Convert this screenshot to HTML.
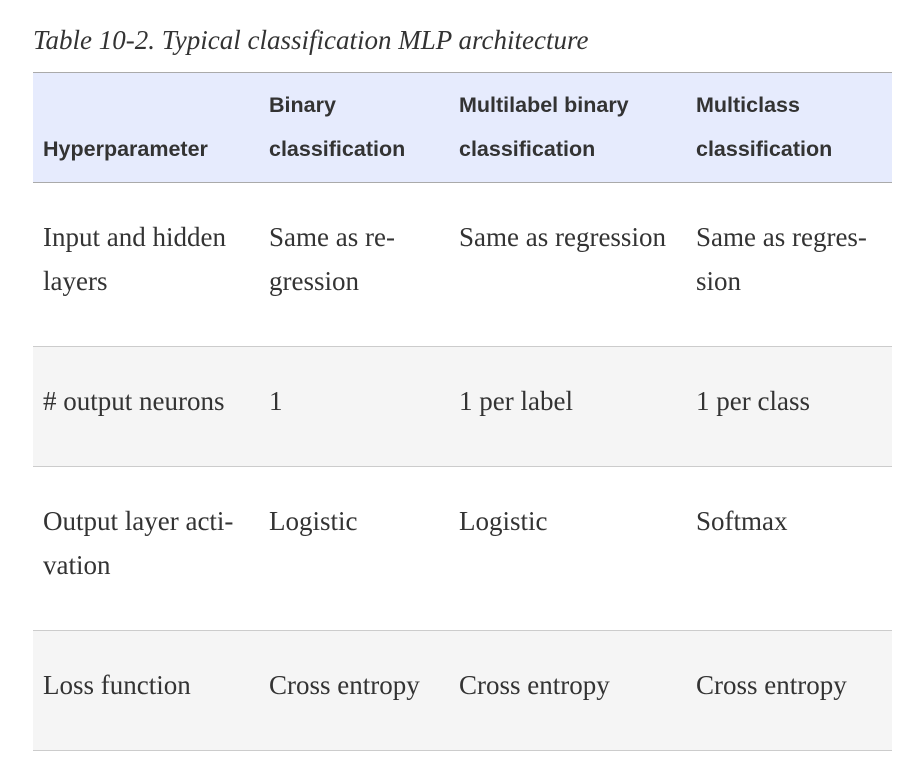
<!DOCTYPE html>
<html><head><meta charset="utf-8"><style>
body{margin:0;width:918px;height:766px;background:#fff;position:relative;overflow:hidden;color:#333}
.a{position:absolute}
.cap{left:33px;top:24px;font:italic 27px "Liberation Serif",serif;line-height:32px;color:#333}
.hd{font:bold 21.5px "Liberation Sans",sans-serif;line-height:44px;color:#333}
.bd{font:27px "Liberation Serif",serif;line-height:44px;color:#333}
.ln{left:33px;width:859px;height:1px;background:#aaa}
.ln2{left:33px;width:859px;height:1px;background:#ccc}
</style></head><body>
<div class="a cap">Table 10-2. Typical classification MLP architecture</div>
<div class="a" style="left:33px;top:72px;width:859px;height:110px;background:#e6ebfd"></div>
<div class="a ln" style="top:72px"></div>
<div class="a ln" style="top:182px"></div>
<div class="a" style="left:33px;top:347px;width:859px;height:119px;background:#f5f5f5"></div>
<div class="a" style="left:33px;top:631px;width:859px;height:119px;background:#f5f5f5"></div>
<div class="a ln2" style="top:346px"></div>
<div class="a ln2" style="top:466px"></div>
<div class="a ln2" style="top:630px"></div>
<div class="a ln2" style="top:750px"></div>

<div class="a hd" style="left:43px;top:127px">Hyperparameter</div>
<div class="a hd" style="left:269px;top:83px">Binary<br>classification</div>
<div class="a hd" style="left:459px;top:83px">Multilabel binary<br>classification</div>
<div class="a hd" style="left:696px;top:83px">Multiclass<br>classification</div>

<div class="a bd" style="left:43px;top:215px">Input and hidden<br>layers</div>
<div class="a bd" style="left:269px;top:215px">Same as re-<br>gression</div>
<div class="a bd" style="left:459px;top:215px">Same as regression</div>
<div class="a bd" style="left:696px;top:215px">Same as regres-<br>sion</div>

<div class="a bd" style="left:43px;top:379px"># output neurons</div>
<div class="a bd" style="left:269px;top:379px">1</div>
<div class="a bd" style="left:459px;top:379px">1 per label</div>
<div class="a bd" style="left:696px;top:379px">1 per class</div>

<div class="a bd" style="left:43px;top:499px">Output layer acti-<br>vation</div>
<div class="a bd" style="left:269px;top:499px">Logistic</div>
<div class="a bd" style="left:459px;top:499px">Logistic</div>
<div class="a bd" style="left:696px;top:499px">Softmax</div>

<div class="a bd" style="left:43px;top:663px">Loss function</div>
<div class="a bd" style="left:269px;top:663px">Cross entropy</div>
<div class="a bd" style="left:459px;top:663px">Cross entropy</div>
<div class="a bd" style="left:696px;top:663px">Cross entropy</div>
</body></html>
